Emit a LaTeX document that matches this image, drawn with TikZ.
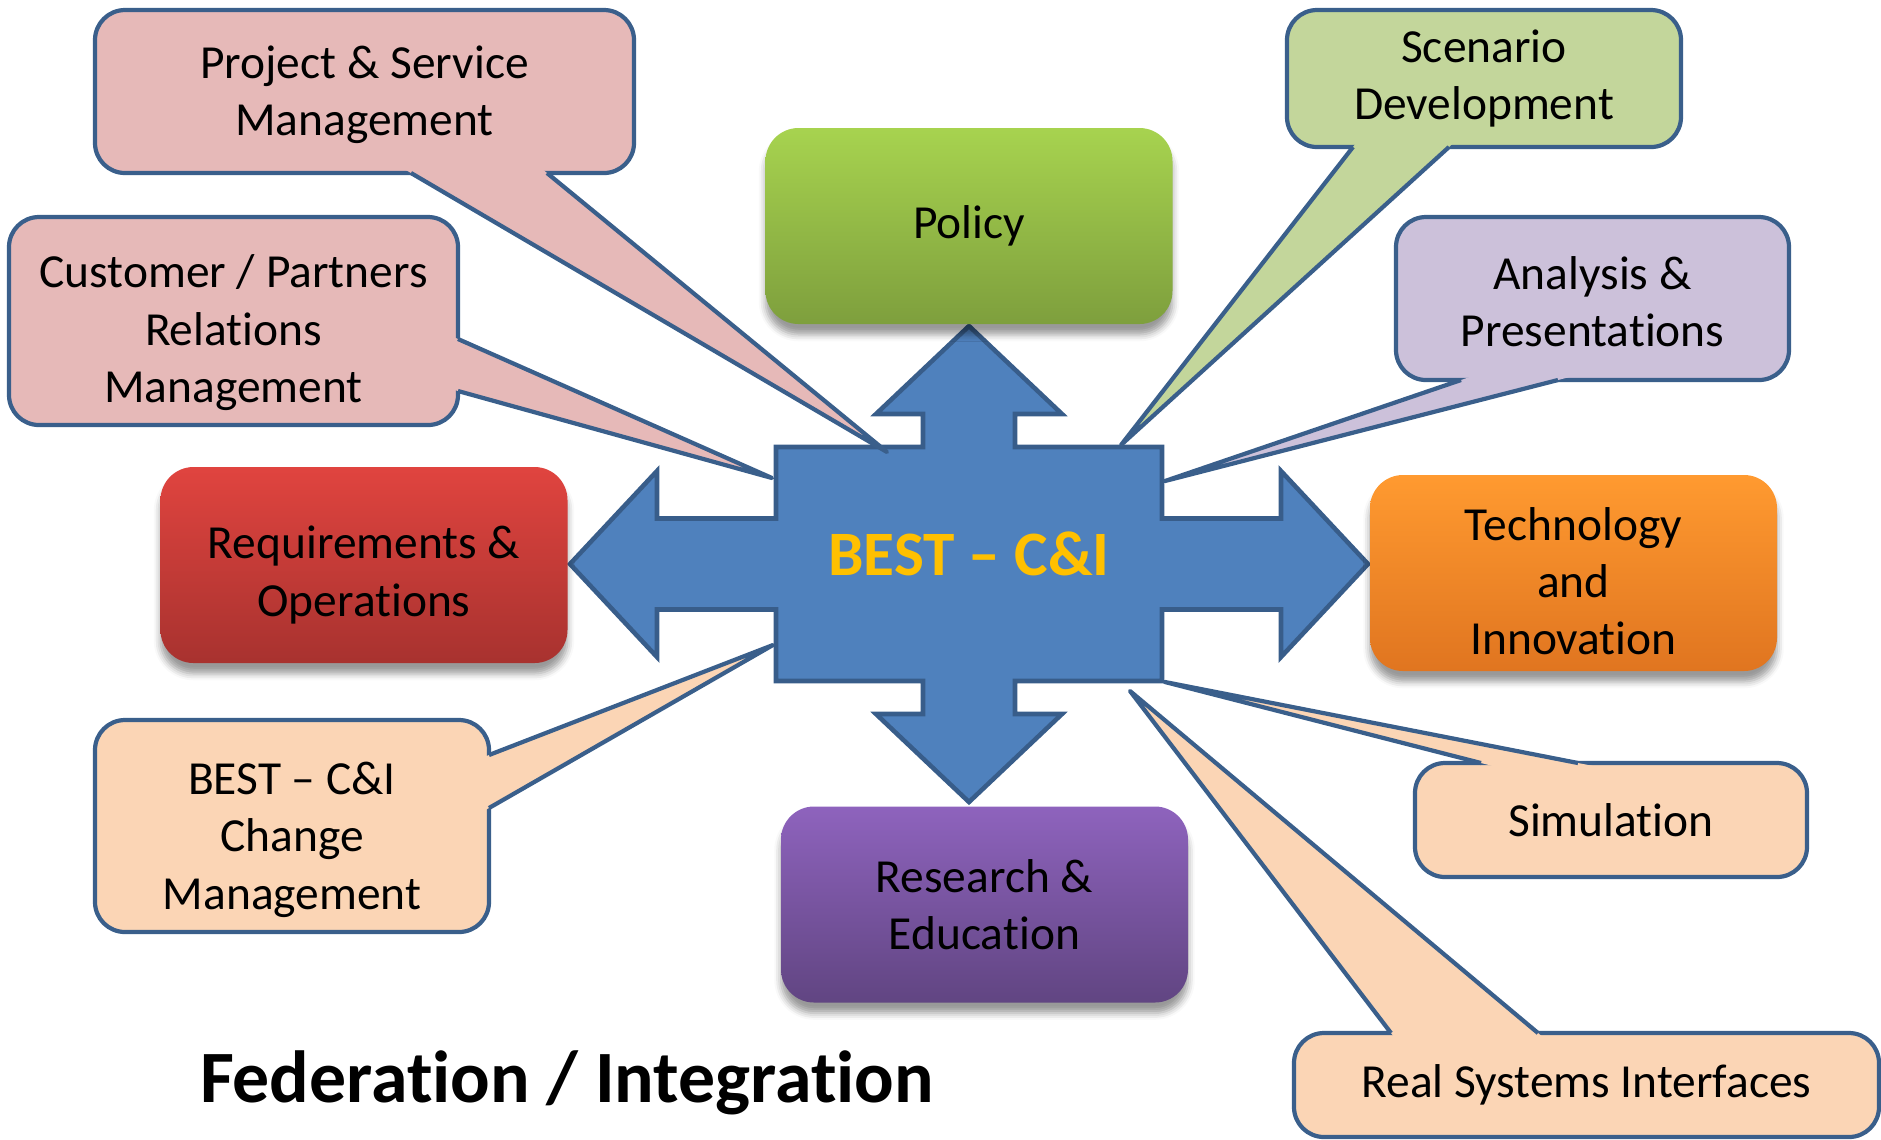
\documentclass[tikz,border=0pt]{standalone}
\usepackage{fontspec}
\setmainfont{Carlito}[Ligatures={TeX,NoCommon}]
\usetikzlibrary{calc,shadows.blur}

\definecolor{crossfill}{HTML}{4F81BD}
\definecolor{crossline}{HTML}{385D8A}
\definecolor{bubbleline}{HTML}{3A5F8B}
\definecolor{pinkfill}{HTML}{E6B9B8}
\definecolor{greenfill}{HTML}{C3D69B}
\definecolor{lilacfill}{HTML}{CCC1DA}
\definecolor{peachfill}{HTML}{FBD5B5}
\definecolor{hubtext}{HTML}{FFC000}

\newcommand{\boxfont}{\fontsize{13.5}{16.3}\selectfont}

\tikzset{
  bubble/.style={draw=bubbleline, line width=1.2pt, rounded corners=0.3cm, align=center,
    inner sep=0pt, outer sep=0pt, font=\boxfont},
  pointer/.style={draw=bubbleline, line width=1.2pt, line join=round},
  mainbox/.style={rounded corners=0.33cm, align=center, inner sep=0pt, outer sep=0pt,
    minimum width=4.07cm, minimum height=1.96cm, font=\boxfont,
    blur shadow={shadow xshift=0pt, shadow yshift=-3pt}},
}

\begin{document}
\begin{tikzpicture}[x=1cm, y=-1cm]
    \useasboundingbox (0,0) rectangle (18.81,11.39);

    % Cross of four arrows
    \begin{scope}[shift={(9.69,5.64)}]
    \draw[fill=crossfill, draw=crossline, line width=1.3pt]
        (0,-2.38) -- (0.93,-1.50) -- (0.46,-1.50) -- (0.46,-1.17) -- (1.93,-1.17)
        -- (1.93,-0.455) -- (3.12,-0.455) -- (3.12,-0.93) -- (3.99,0) -- (3.12,0.93)
        -- (3.12,0.455) -- (1.93,0.455) -- (1.93,1.17) -- (0.46,1.17) -- (0.46,1.50)
        -- (0.93,1.50) -- (0,2.38) -- (-0.93,1.50) -- (-0.46,1.50) -- (-0.46,1.17)
        -- (-1.93,1.17) -- (-1.93,0.455) -- (-3.12,0.455) -- (-3.12,0.93) -- (-3.99,0)
        -- (-3.12,-0.93) -- (-3.12,-0.455) -- (-1.93,-0.455) -- (-1.93,-1.17)
        -- (-0.46,-1.17) -- (-0.46,-1.50) -- (-0.93,-1.50) -- cycle;
    \end{scope}
    \node[font=\fontsize{18}{21}\selectfont\bfseries, text=hubtext] (hub) at (9.69,5.54) {BEST – C\&I};

    % Four main boxes
    \node[mainbox, top color={rgb,255:red,167;green,211;blue,79}, bottom color={rgb,255:red,126;green,159;blue,61}] (policy) at (9.69,2.26) {Policy};
    \node[mainbox, top color={rgb,255:red,224;green,68;blue,63}, bottom color={rgb,255:red,168;green,50;blue,47}] (reqops) at (3.64,5.65) {\rule{0pt}{15pt}Requirements \&\\Operations};
    \node[mainbox, top color={rgb,255:red,255;green,154;blue,48}, bottom color={rgb,255:red,224;green,117;blue,32}] (techinno) at (15.735,5.73) {\rule{0pt}{14pt}Technology\\and\\Innovation};
    \node[mainbox, top color={rgb,255:red,142;green,99;blue,189}, bottom color={rgb,255:red,97;green,69;blue,130}] (research) at (9.845,9.045) {Research \&\\Education};

    % Callouts
    \node[bubble, fill=pinkfill, minimum width=5.39cm, minimum height=1.63cm] (psm) at (3.645,0.915) {\rule{0pt}{11pt}Project \& Service\\Management};
    \coordinate (psm1) at (4.11,0 |- psm.south);
    \coordinate (psm2) at (5.47,0 |- psm.south);
    \coordinate (psmtip) at (8.87,4.52);
    \fill[pinkfill] ($(psm1)!-8pt!(psmtip)$) -- (psmtip) -- ($(psm2)!-8pt!(psmtip)$) -- cycle;
    \draw[pointer] (psm1) -- (psmtip) -- (psm2);

    \node[bubble, fill=pinkfill, minimum width=4.49cm, minimum height=2.08cm] (cprm) at (2.335,3.21) {\rule{0pt}{16pt}Customer / Partners\\Relations\\Management};
    \coordinate (cprm1) at (cprm.east |- 0,3.39);
    \coordinate (cprm2) at (cprm.east |- 0,3.91);
    \coordinate (cprmtip) at (7.72,4.78);
    \fill[pinkfill] ($(cprm1)!-8pt!(cprmtip)$) -- (cprmtip) -- ($(cprm2)!-8pt!(cprmtip)$) -- cycle;
    \draw[pointer] (cprm1) -- (cprmtip) -- (cprm2);

    \node[bubble, fill=greenfill, minimum width=3.94cm, minimum height=1.37cm] (sd) at (14.84,0.785) {Scenario\\Development};
    \coordinate (sd1) at (13.53,0 |- sd.south);
    \coordinate (sd2) at (14.49,0 |- sd.south);
    \coordinate (sdtip) at (11.21,4.45);
    \fill[greenfill] ($(sd1)!-8pt!(sdtip)$) -- (sdtip) -- ($(sd2)!-8pt!(sdtip)$) -- cycle;
    \draw[pointer] (sd1) -- (sdtip) -- (sd2);

    \node[bubble, fill=lilacfill, minimum width=3.93cm, minimum height=1.63cm] (ap) at (15.925,2.985) {\rule{0pt}{11pt}Analysis \&\\Presentations};
    \coordinate (ap1) at (14.61,0 |- ap.south);
    \coordinate (ap2) at (15.58,0 |- ap.south);
    \coordinate (aptip) at (11.65,4.81);
    \fill[lilacfill] ($(ap1)!-8pt!(aptip)$) -- (aptip) -- ($(ap2)!-8pt!(aptip)$) -- cycle;
    \draw[pointer] (ap1) -- (aptip) -- (ap2);

    \node[bubble, fill=peachfill, minimum width=3.92cm, minimum height=1.14cm] (sim) at (16.11,8.20) {Simulation};
    \coordinate (sim1) at (14.81,0 |- sim.north);
    \coordinate (sim2) at (15.78,0 |- sim.north);
    \coordinate (simtip) at (11.65,6.82);
    \fill[peachfill] ($(sim1)!-8pt!(simtip)$) -- (simtip) -- ($(sim2)!-8pt!(simtip)$) -- cycle;
    \draw[pointer] (sim1) -- (simtip) -- (sim2);

    \node[bubble, fill=peachfill, minimum width=5.85cm, minimum height=1.04cm] (rsi) at (15.865,10.85) {Real Systems Interfaces};
    \coordinate (rsi1) at (13.91,0 |- rsi.north);
    \coordinate (rsi2) at (15.38,0 |- rsi.north);
    \coordinate (rsitip) at (11.30,6.91);
    \fill[peachfill] ($(rsi1)!-8pt!(rsitip)$) -- (rsitip) -- ($(rsi2)!-8pt!(rsitip)$) -- cycle;
    \draw[pointer] (rsi1) -- (rsitip) -- (rsi2);

    \node[bubble, fill=peachfill, minimum width=3.94cm, minimum height=2.12cm] (bcm) at (2.92,8.26) {\rule{0pt}{17pt}BEST – C\&I\\Change\\Management};
    \coordinate (bcm1) at (bcm.east |- 0,7.55);
    \coordinate (bcm2) at (bcm.east |- 0,8.08);
    \coordinate (bcmtip) at (7.73,6.45);
    \fill[peachfill] ($(bcm1)!-8pt!(bcmtip)$) -- (bcmtip) -- ($(bcm2)!-8pt!(bcmtip)$) -- cycle;
    \draw[pointer] (bcm1) -- (bcmtip) -- (bcm2);

    % Caption
    \node[anchor=base, font=\fontsize{21}{25}\selectfont\bfseries] (fedint) at (5.67,11.02) {Federation / Integration};
\end{tikzpicture}
\end{document}
